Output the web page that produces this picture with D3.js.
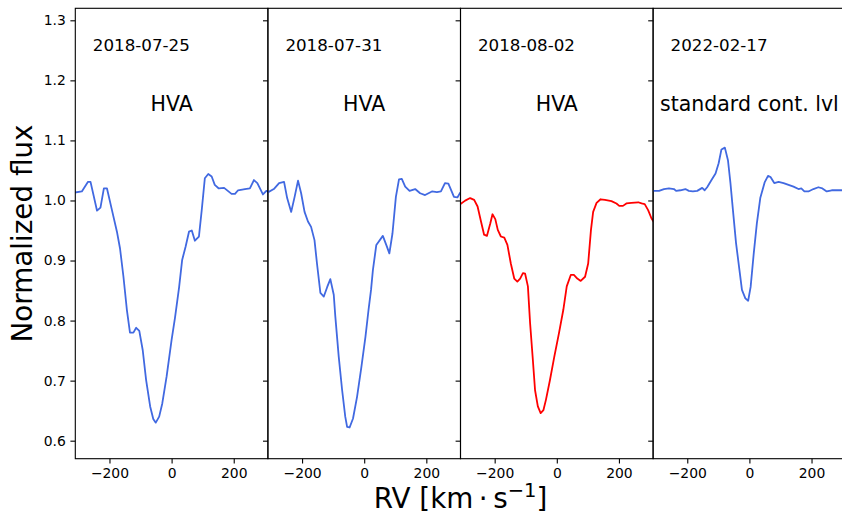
<!DOCTYPE html>
<html>
<head>
<meta charset="utf-8">
<script src="https://cdn.jsdelivr.net/npm/d3@7"></script>
<style>
  html, body { margin: 0; padding: 0; background: #fff; }
  svg { display: block; font-family: "DejaVu Sans", sans-serif; }
</style>
</head>
<body>
<svg id="chart" width="842" height="514"></svg>
<script>
// Observation dates and panel annotations
const dates = ["2018-07-25", "2018-07-31", "2018-08-02", "2022-02-17"];
const notes = ["HVA", "HVA", "HVA", "standard cont. lvl"];

// Line profiles: radial velocity (km/s) and normalized flux
const rv1 = [-315,-289,-269,-261,-240,-229,-218,-208,-192,-176,-166,-155,-144,-134,-123,-114,-104,-93,-82,-69,-59,-51,-40,-30,-16,0,11,24,34,45,56,65,75,88,97,107,118,129,139,152,169,193,204,214,236,252,265,276,294,305,315];
const flux1 = [1.013,1.015,1.031,1.031,0.983,0.988,1.020,1.020,0.984,0.948,0.920,0.873,0.818,0.780,0.780,0.788,0.783,0.751,0.701,0.657,0.636,0.630,0.640,0.662,0.707,0.768,0.805,0.855,0.901,0.923,0.948,0.950,0.933,0.940,0.984,1.037,1.044,1.040,1.026,1.020,1.021,1.011,1.011,1.017,1.019,1.020,1.034,1.029,1.010,1.016,1.014];

const rv2 = [-315,-291,-274,-258,-248,-235,-224,-213,-203,-192,-181,-171,-160,-152,-141,-130,-119,-109,-98,-93,-82,-71,-61,-55,-47,-36,-23,-9,4,14,22,28,39,60,71,81,91,102,112,121,132,146,164,180,196,218,234,247,260,271,289,300,309,315];
const flux2 = [1.012,1.019,1.029,1.031,1.004,0.981,1.006,1.033,1.012,0.981,0.965,0.956,0.934,0.895,0.846,0.840,0.856,0.869,0.843,0.807,0.740,0.684,0.640,0.623,0.622,0.637,0.673,0.723,0.773,0.818,0.851,0.884,0.926,0.941,0.926,0.912,0.945,1.006,1.035,1.036,1.023,1.016,1.019,1.012,1.009,1.015,1.014,1.015,1.029,1.028,1.006,1.005,1.013,1.015];

const rv3 = [-315,-295,-279,-266,-255,-244,-234,-225,-214,-207,-198,-190,-180,-169,-159,-148,-137,-127,-118,-109,-102,-93,-86,-77,-70,-61,-52,-43,-35,-22,-8,7,21,32,45,55,66,77,91,101,110,117,128,141,155,176,192,201,213,224,240,262,273,283,294,305,315];
const flux3 = [0.992,0.9997,1.004,1.001,0.990,0.965,0.943,0.941,0.962,0.977,0.969,0.951,0.940,0.938,0.926,0.895,0.870,0.865,0.870,0.879,0.878,0.857,0.796,0.734,0.684,0.657,0.646,0.651,0.668,0.701,0.740,0.779,0.818,0.857,0.876,0.876,0.870,0.866,0.873,0.895,0.951,0.981,0.996,1.002,1.001,0.999,0.995,0.991,0.991,0.995,0.996,0.997,0.995,0.994,0.984,0.970,0.962];

const rv4 = [-315,-291,-275,-259,-243,-236,-222,-206,-195,-182,-168,-152,-144,-136,-122,-109,-99,-90,-79,-69,-61,-53,-43,-32,-24,-13,-4,4,14,24,35,49,60,68,80,94,110,126,142,158,167,177,190,206,222,235,249,265,281,297,315];
const flux4 = [1.016,1.016,1.019,1.020,1.019,1.016,1.017,1.019,1.016,1.015,1.016,1.021,1.017,1.022,1.034,1.045,1.062,1.085,1.088,1.067,1.029,0.984,0.929,0.884,0.851,0.837,0.833,0.856,0.912,0.962,1.004,1.030,1.041,1.039,1.029,1.031,1.029,1.026,1.023,1.019,1.020,1.015,1.015,1.019,1.022,1.020,1.015,1.017,1.017,1.017,1.016];

const rvSeries = [rv1, rv2, rv3, rv4];
const fluxSeries = [flux1, flux2, flux3, flux4];
const lineColors = ["#4169e1", "#4169e1", "#ff0000", "#4169e1"];

const xTicks = [-200, 0, 200];
const yTicks = [0.6, 0.7, 0.8, 0.9, 1.0, 1.1, 1.2, 1.3];

// Layout
const svg = d3.select("#chart");
const plotTop = 8.3, plotBottom = 458.7;
const left0 = 75.3, panelW = 192.6;
const xDomain = [-310, 310];
const yDomain = [0.57, 1.32];
const tickLen = 4.9;

const y = d3.scaleLinear().domain(yDomain).range([plotBottom, plotTop]);

const fmtX = d => d3.format("d")(d).replace("-", "\u2212");

dates.forEach((date, i) => {
  const left = left0 + i * panelW;
  const x = d3.scaleLinear().domain(xDomain).range([left, left + panelW]);
  const g = svg.append("g");

  const clipId = "clip" + i;
  svg.append("clipPath").attr("id", clipId)
    .append("rect").attr("x", left).attr("y", plotTop)
    .attr("width", panelW).attr("height", plotBottom - plotTop);

  // profile line
  const pts = rvSeries[i].map((v, k) => [v, fluxSeries[i][k]]);
  g.append("path")
    .datum(pts)
    .attr("clip-path", `url(#${clipId})`)
    .attr("fill", "none")
    .attr("stroke", lineColors[i])
    .attr("stroke-width", 1.8)
    .attr("stroke-linejoin", "round")
    .attr("d", d3.line().x(d => x(d[0])).y(d => y(d[1])));

  // bottom axis
  const xa = g.append("g").attr("transform", `translate(0,${plotBottom})`)
    .call(d3.axisBottom(x).tickValues(xTicks).tickFormat(fmtX)
      .tickSize(tickLen).tickPadding(4.6).tickSizeOuter(0));
  xa.select(".domain").remove();
  xa.selectAll("line").attr("stroke", "#000").attr("stroke-width", 1.1);
  xa.selectAll("text").attr("font-size", "13.9px").attr("fill", "#000")
    .attr("font-family", "DejaVu Sans");

  // left axis (labels only on the first panel)
  const ya = g.append("g").attr("transform", `translate(${left},0)`)
    .call(d3.axisLeft(y).tickValues(yTicks)
      .tickFormat(i === 0 ? d3.format(".1f") : () => "")
      .tickSize(tickLen).tickPadding(4.6).tickSizeOuter(0));
  ya.select(".domain").remove();
  ya.selectAll("line").attr("stroke", "#000").attr("stroke-width", 1.1);
  ya.selectAll("text").attr("font-size", "13.9px").attr("fill", "#000")
    .attr("font-family", "DejaVu Sans");

  // frame
  g.append("rect")
    .attr("x", left).attr("y", plotTop)
    .attr("width", panelW).attr("height", plotBottom - plotTop)
    .attr("fill", "none").attr("stroke", "#000").attr("stroke-width", 1.1);

  // annotations
  g.append("text")
    .attr("x", left + 17.5).attr("y", 50.7)
    .attr("font-size", "16.7px").attr("fill", "#000")
    .text(date);
  g.append("text")
    .attr("x", x(0)).attr("y", 111)
    .attr("text-anchor", "middle")
    .attr("font-size", "20.5px").attr("fill", "#000")
    .text(notes[i]);
});

// axis titles
svg.append("text")
  .attr("transform", `translate(32,${(plotTop + plotBottom) / 2}) rotate(-90)`)
  .attr("text-anchor", "middle")
  .attr("font-size", "27.8px").attr("fill", "#000")
  .text("Normalized flux");

const xl = svg.append("text")
  .attr("x", left0 + 2 * panelW).attr("y", 507.5)
  .attr("text-anchor", "middle")
  .attr("font-size", "27.8px").attr("fill", "#000");
xl.append("tspan").text("RV [km\u2009\u00b7\u2009s");
xl.append("tspan").attr("dy", -11).attr("font-size", "19.5px").text("\u22121");
xl.append("tspan").attr("dy", 11).text("]");
</script>
</body>
</html>
